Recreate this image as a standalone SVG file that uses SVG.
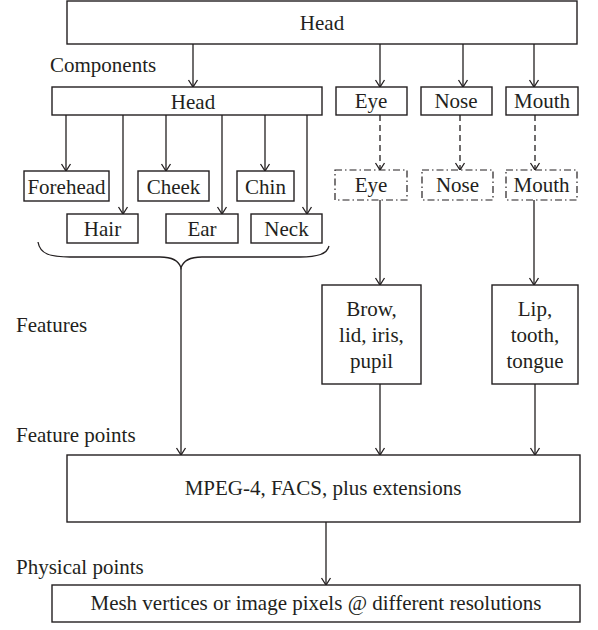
<svg xmlns="http://www.w3.org/2000/svg" width="598" height="630" viewBox="0 0 598 630">
<defs>
<marker id="ah" markerUnits="userSpaceOnUse" markerWidth="12" markerHeight="12" viewBox="-10 -6 12 12" refX="0" refY="0" orient="auto">
<path d="M-7,-4.5 L0,0 L-7,4.5" fill="none" stroke="#231f20" stroke-width="1.3"/>
</marker>
<style>
.box{fill:#fff;stroke:#231f20;stroke-width:1.4}
.dd{fill:#fff;stroke:#231f20;stroke-width:1.2;stroke-dasharray:7 3 1.5 3}
.t{font-family:'Liberation Serif',Tinos,'DejaVu Serif',serif;font-size:21px;fill:#231f20;text-anchor:middle}
.lab{font-family:'Liberation Serif',Tinos,'DejaVu Serif',serif;font-size:21px;fill:#231f20}
.c{fill:none;stroke:#231f20;stroke-width:1.3}
.ca{fill:none;stroke:#231f20;stroke-width:1.3;marker-end:url(#ah)}
.dash{fill:none;stroke:#231f20;stroke-width:1.3;stroke-dasharray:6 4;marker-end:url(#ah)}
</style>
</defs>
<rect width="598" height="630" fill="#fff"/>
<g id="labels">
<text class="lab" x="50" y="72">Components</text>
<text class="lab" x="16" y="332">Features</text>
<text class="lab" x="16" y="442">Feature points</text>
<text class="lab" x="16" y="574">Physical points</text>
</g>
<g id="connectors">
<line class="ca" x1="193" y1="44" x2="193" y2="87"/>
<line class="ca" x1="380" y1="44" x2="380" y2="87"/>
<line class="ca" x1="463" y1="44" x2="463" y2="87"/>
<line class="ca" x1="534" y1="44" x2="534" y2="87"/>
<line class="ca" x1="66" y1="115" x2="66" y2="171"/>
<line class="ca" x1="123" y1="115" x2="123" y2="214"/>
<line class="ca" x1="166" y1="115" x2="166" y2="171"/>
<line class="ca" x1="222" y1="115" x2="222" y2="214"/>
<line class="ca" x1="265" y1="115" x2="265" y2="171"/>
<line class="ca" x1="307" y1="115" x2="307" y2="214"/>
<line class="dash" x1="380" y1="115" x2="380" y2="170"/>
<line class="dash" x1="460" y1="115" x2="460" y2="170"/>
<line class="dash" x1="535" y1="115" x2="535" y2="170"/>
<line class="ca" x1="380" y1="200" x2="380" y2="285"/>
<line class="ca" x1="534" y1="200" x2="534" y2="285"/>
<path class="c" d="M38,242 C40,254 50,257 70,257 L160,257 C172,257 179,261 181,268 C183,261 190,257 202,257 L300,257 C318,257 327,254 329,246"/>
<line class="ca" x1="181" y1="268" x2="181" y2="455"/>
<line class="ca" x1="380" y1="384" x2="380" y2="455"/>
<line class="ca" x1="535" y1="384" x2="535" y2="455"/>
<line class="ca" x1="326" y1="522" x2="326" y2="585"/>
</g>
<g id="head-top"><rect class="box" x="67" y="1" width="510" height="43"/><text class="t" x="322" y="30">Head</text></g>
<g id="head-comp"><rect class="box" x="52" y="87" width="270" height="28"/><text class="t" x="193" y="109">Head</text></g>
<g id="eye"><rect class="box" x="336" y="87" width="71" height="28"/><text class="t" x="371" y="108">Eye</text></g>
<g id="nose"><rect class="box" x="421" y="87" width="71" height="28"/><text class="t" x="456" y="108">Nose</text></g>
<g id="mouth"><rect class="box" x="506" y="87" width="72" height="28"/><text class="t" x="542" y="108">Mouth</text></g>
<g id="forehead"><rect class="box" x="24" y="171" width="85" height="30"/><text class="t" x="66.5" y="194">Forehead</text></g>
<g id="cheek"><rect class="box" x="138" y="171" width="71" height="30"/><text class="t" x="173.5" y="194">Cheek</text></g>
<g id="chin"><rect class="box" x="237" y="171" width="57" height="30"/><text class="t" x="265.5" y="194">Chin</text></g>
<g id="hair"><rect class="box" x="67" y="214" width="71" height="29"/><text class="t" x="102.5" y="236">Hair</text></g>
<g id="ear"><rect class="box" x="166" y="214" width="72" height="29"/><text class="t" x="202" y="236">Ear</text></g>
<g id="neck"><rect class="box" x="251" y="214" width="71" height="29"/><text class="t" x="286.5" y="236">Neck</text></g>
<g id="eye2"><rect class="dd" x="335" y="170" width="72" height="30"/><text class="t" x="371" y="192">Eye</text></g>
<g id="nose2"><rect class="dd" x="422" y="170" width="71" height="30"/><text class="t" x="457.5" y="192">Nose</text></g>
<g id="mouth2"><rect class="dd" x="506" y="170" width="71" height="30"/><text class="t" x="541.5" y="192">Mouth</text></g>
<g id="eyefeat"><rect class="box" x="322" y="285" width="99" height="99"/><text class="t" x="371.5" y="316">Brow,</text><text class="t" x="371.5" y="342">lid, iris,</text><text class="t" x="371.5" y="368">pupil</text></g>
<g id="mouthfeat"><rect class="box" x="492" y="285" width="86" height="99"/><text class="t" x="535" y="316">Lip,</text><text class="t" x="535" y="342">tooth,</text><text class="t" x="535" y="368">tongue</text></g>
<g id="featpoints"><rect class="box" x="67" y="455" width="513" height="67"/><text class="t" x="323" y="495">MPEG-4, FACS, plus extensions</text></g>
<g id="physpoints"><rect class="box" x="52" y="585" width="528" height="37"/><text class="t" x="316" y="610">Mesh vertices or image pixels @ different resolutions</text></g>
</svg>
